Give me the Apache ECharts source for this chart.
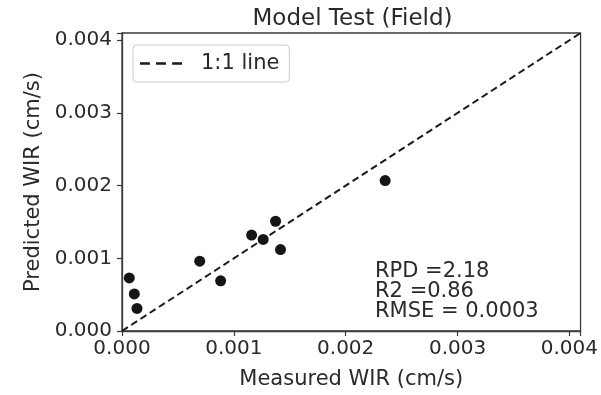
<!DOCTYPE html>
<html>
<head>
<meta charset="utf-8">
<script src="https://cdn.jsdelivr.net/npm/echarts@6/dist/echarts.min.js"></script>
<style>html,body{margin:0;padding:0;background:#fff}#c{width:601px;height:395px}</style>
</head>
<body>
<div id="c"></div>
<script>
const measured = [0.000065, 0.00011, 0.000134, 0.000695, 0.000882, 0.001159, 0.001262, 0.001373, 0.001417, 0.002353];
const predicted = [0.00073, 0.00051, 0.00031, 0.00096, 0.00069, 0.00132, 0.00126, 0.00151, 0.00112, 0.00207];
const oneToOne = [[0, 0], [0.0041, 0.0041]];
const titleText = 'Model Test (Field)';
const xName = 'Measured WIR (cm/s)';
const yName = 'Predicted WIR (cm/s)';
const statsLines = ['RPD =2.18', 'R2 =0.86', 'RMSE = 0.0003'];

const FONT = '"DejaVu Sans", sans-serif';
const TXT = '#2a2a2a';
const AX = '#3a3a3a';
const fmt = v => Math.abs(v * 1000 - Math.round(v * 1000)) < 1e-6 ? v.toFixed(3) : '';

const axisCommon = {
  type: 'value', min: 0, max: 0.0041, interval: 0.001,
  nameLocation: 'middle',
  nameTextStyle: { fontFamily: FONT, fontSize: 21, color: TXT },
  axisLine: { show: true, lineStyle: { color: AX, width: 1.3 } },
  axisTick: { show: true, inside: false, length: 5, lineStyle: { color: AX, width: 1.2 } },
  axisLabel: { formatter: fmt, fontFamily: FONT, fontSize: 20, color: TXT },
  splitLine: { show: false }
};

const chart = echarts.init(document.getElementById('c'), null, { renderer: 'canvas' });
chart.setOption({
  animation: false,
  backgroundColor: '#fff',
  grid: { left: 122, right: 18, top: 33, bottom: 60, show: true, borderColor: AX, borderWidth: 1.3, backgroundColor: 'transparent' },
  xAxis: Object.assign({}, axisCommon, { name: xName, nameGap: 38, axisLabel: Object.assign({}, axisCommon.axisLabel, { margin: 8 }) }),
  yAxis: Object.assign({}, axisCommon, { name: yName, nameGap: 78, axisLabel: Object.assign({}, axisCommon.axisLabel, { margin: 10 }) }),
  legend: {
    data: [{ name: '1:1 line', icon: 'path://M0,0h8v2.2h-8z M13,0h8v2.2h-8z M26,0h8v2.2h-8z', itemStyle: { color: '#1a1a1a' } }],
    left: 133, top: 45,
    borderColor: '#cccccc', borderWidth: 1, borderRadius: 4,
    padding: [8, 10, 8, 7], itemWidth: 42, itemHeight: 3,
    textStyle: { fontFamily: FONT, fontSize: 21, color: TXT, padding: [0, 0, 0, 14] }
  },
  graphic: [
    { type: 'text', x: 352.5, y: 8, style: { text: titleText, textAlign: 'center', fontFamily: FONT, fontSize: 23, fill: TXT } },
    { type: 'text', x: 375, y: 262, style: { text: statsLines.join('\n'), fontFamily: FONT, fontSize: 21, lineHeight: 20, fill: TXT } }
  ],
  series: [
    {
      name: '1:1 line', type: 'line', data: oneToOne, symbol: 'none',
      lineStyle: { color: '#1a1a1a', width: 2, type: [7, 4] }, itemStyle: { color: '#1a1a1a' }, z: 3
    },
    {
      name: 'points', type: 'scatter', data: measured.map((x, i) => [x, predicted[i]]),
      symbol: 'circle', symbolSize: 11, itemStyle: { color: '#151515', opacity: 1 }, z: 4
    }
  ]
});
</script>
</body>
</html>
